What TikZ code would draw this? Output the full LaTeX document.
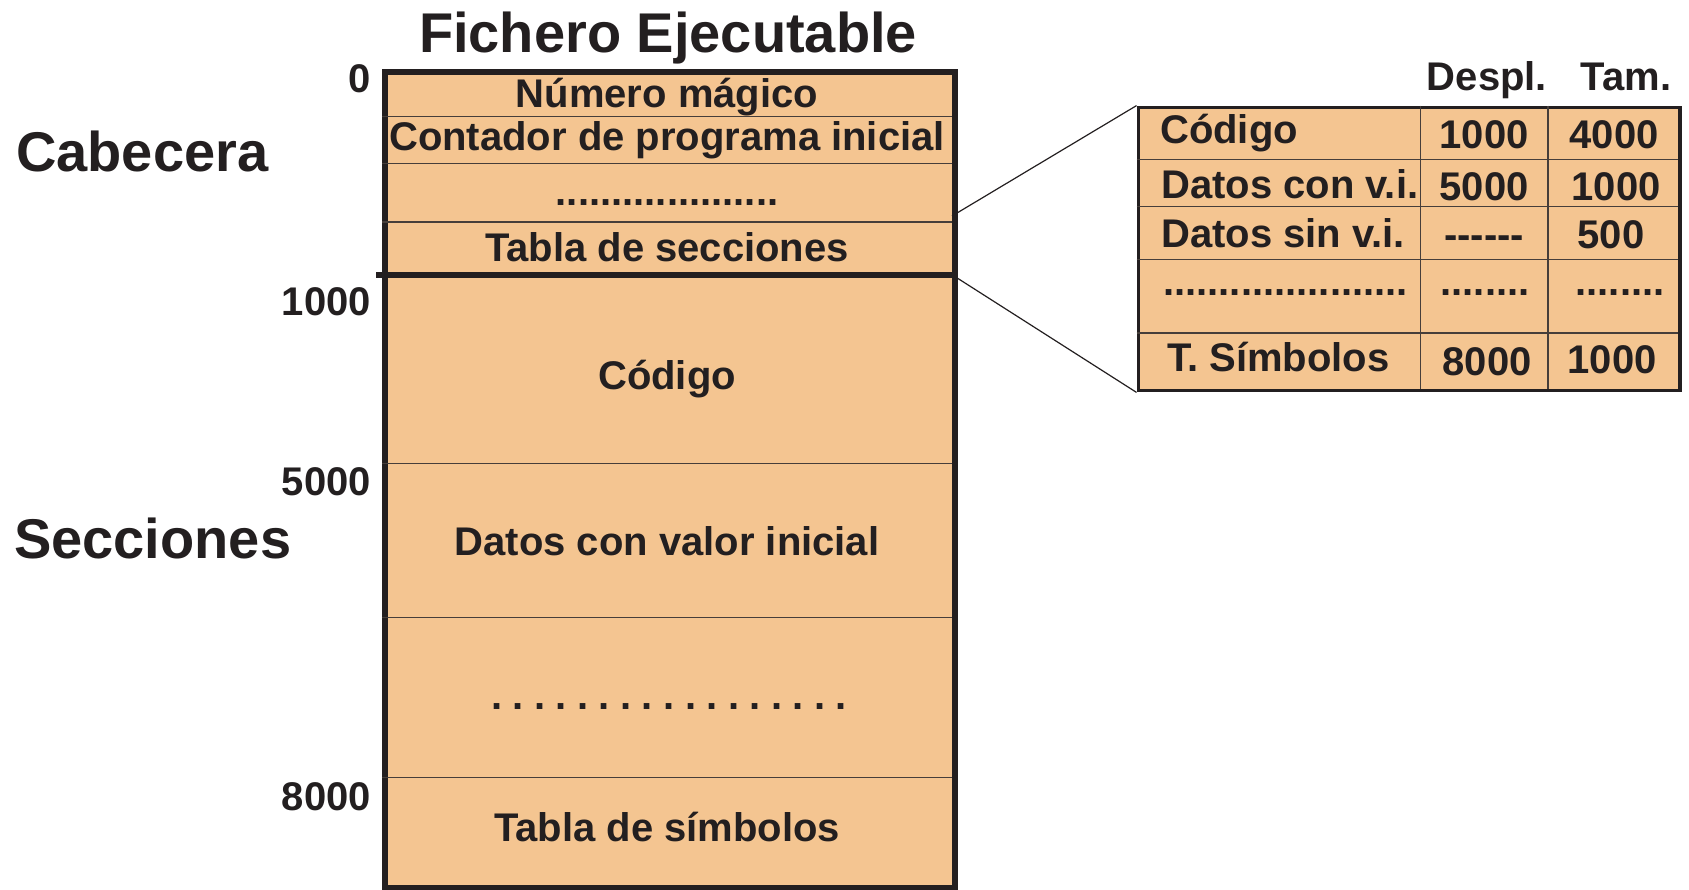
\documentclass[tikz,border=0pt]{standalone}
\usepackage{fontspec}
\setmainfont{Liberation Sans}
\definecolor{peach}{RGB}{244,197,145}
\definecolor{ink}{RGB}{35,31,32}
\definecolor{rule}{RGB}{70,62,58}
\newcommand\sdot{.\hspace{10.4pt}}
\begin{document}
\begin{tikzpicture}[x=1pt,y=-1pt,
  txt/.style={font=\fontsize{40}{44}\selectfont\bfseries, text=ink, inner sep=0pt, anchor=base},
  big/.style={font=\fontsize{56}{60}\selectfont\bfseries, text=ink, inner sep=0pt, anchor=base},
  thin/.style={draw=rule, line width=1.2pt},
  thick/.style={draw=ink, line width=6pt},
  conn/.style={draw=ink, line width=1.2pt},
  ]
\useasboundingbox (0,0) rectangle (1689,889);
% ---- main file box
\node[fill=peach, draw=ink, line width=6pt, anchor=north west, minimum width=570pt, minimum height=816pt, inner sep=0pt] (mainbox) at (382,69) {};
\draw[thin] (382,116.3) -- (952,116.3);
\draw[thin] (382,163.7) -- (952,163.7);
\draw[thin] (382,221.9) -- (952,221.9);
\draw[thin] (382,463.2) -- (952,463.2);
\draw[thin] (382,617.2) -- (952,617.2);
\draw[thin] (382,777.7) -- (952,777.7);
\draw[thick] (376,274.7) -- (952,274.7);
% title
\node[big] (title) at (668,52) {Fichero Ejecutable};
% cell texts
\node[txt] (num) at (667,107) {Número mágico};
\node[txt] (pc) at (667,150) {Contador de programa inicial};
\node[txt] (hdots) at (667,205.7) {....................};
\node[txt] (tsec) at (667,261.7) {Tabla de secciones};
\node[txt] (cod) at (667,389) {Código};
\node[txt] (dat) at (667,555) {Datos con valor inicial};
\node[txt] (sdots) at (669,709.5) {\sdot\sdot\sdot\sdot\sdot\sdot\sdot\sdot\sdot\sdot\sdot\sdot\sdot\sdot\sdot\sdot.};
\node[txt] (tsym) at (667,841.5) {Tabla de símbolos};
% offsets
\node[txt, anchor=base east] (o0) at (371,92) {0};
\node[txt, anchor=base east] (o1) at (371,315) {1000};
\node[txt, anchor=base east] (o5) at (371,495) {5000};
\node[txt, anchor=base east] (o8) at (371,810) {8000};
% side labels
\node[big, anchor=base west] (cab) at (16,171.7) {Cabecera};
\node[big, anchor=base west] (sec) at (14,558) {Secciones};
% ---- section table
\node[fill=peach, draw=ink, line width=3.5pt, anchor=north west, minimum width=541.8pt, minimum height=283.3pt, inner sep=0pt] (tab) at (1136.5,105.6) {};
\draw[thin] (1420.8,105.6) -- (1420.8,388.9);
\draw[thin] (1548,105.6) -- (1548,388.9);
\draw[thin] (1136.5,159.4) -- (1678.3,159.4);
\draw[thin] (1136.5,206.8) -- (1678.3,206.8);
\draw[thin] (1136.5,259.6) -- (1678.3,259.6);
\draw[thin] (1136.5,332.9) -- (1678.3,332.9);
% headers
\node[txt] (hdesp) at (1487,90) {Despl.};
\node[txt] (htam) at (1626,90) {Tam.};
% rows
\node[txt, anchor=base west] (r1a) at (1160,143.3) {Código};
\node[txt] (r1b) at (1484,148.3) {1000};
\node[txt] (r1c) at (1614,148.3) {4000};
\node[txt, anchor=base west] (r2a) at (1161,198.3) {Datos con v.i.};
\node[txt] (r2b) at (1484,200) {5000};
\node[txt] (r2c) at (1616,200) {1000};
\node[txt, anchor=base west] (r3a) at (1161,247.7) {Datos sin v.i.};
\node[txt] (r3b) at (1484,248) {-{}-{}-{}-{}-{}-};
\node[txt] (r3c) at (1611,248.3) {500};
\node[txt, anchor=base west] (r4a) at (1163,295.7) {......................};
\node[txt] (r4b) at (1485,295.7) {........};
\node[txt] (r4c) at (1620,295.7) {........};
\node[txt, anchor=base west] (r5a) at (1167,371.7) {T. Símbolos};
\node[txt] (r5b) at (1487,375) {8000};
\node[txt] (r5c) at (1612,373.3) {1000};
% connectors
\coordinate (e1) at (952,216);
\coordinate (e2) at (952,274.7);
\draw[conn] (e1) -- (tab.north west);
\draw[conn] (e2) -- (tab.south west);
\end{tikzpicture}
\end{document}
